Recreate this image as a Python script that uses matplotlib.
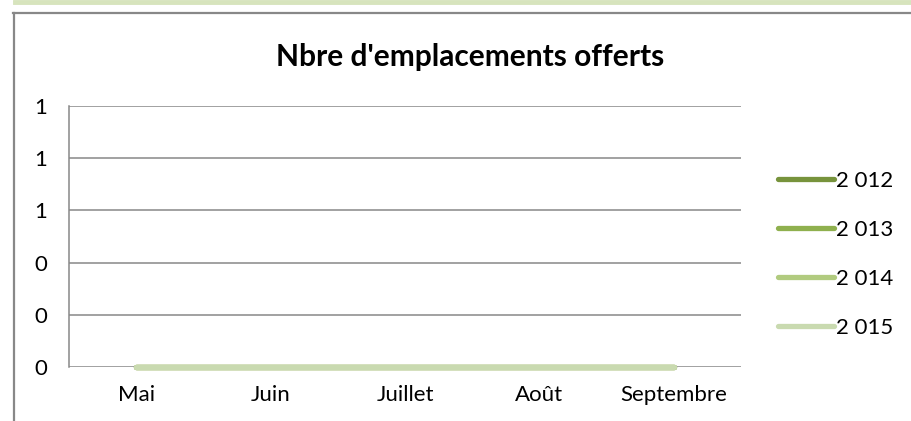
import matplotlib
matplotlib.use("Agg")
from matplotlib import pyplot as plt
from matplotlib.lines import Line2D
from matplotlib.ticker import FuncFormatter, MultipleLocator

plt.rcParams['font.family'] = ['Lato', 'DejaVu Sans']

months = ['Mai', 'Juin', 'Juillet', 'Août', 'Septembre']
series_names = ['2 012', '2 013', '2 014', '2 015']
values_2012 = [0, 0, 0, 0, 0]
values_2013 = [0, 0, 0, 0, 0]
values_2014 = [0, 0, 0, 0, 0]
values_2015 = [0, 0, 0, 0, 0]
colors = ['#77933c', '#8fb04e', '#b1cb7f', '#c9dab0']

GRID = '#888888'

fig = plt.figure(figsize=(9.12, 4.21), dpi=100)

# outer frame pieces and green band
fig.add_artist(Line2D([15 / 912, 1], [1 - 2 / 421] * 2, color='#d7e4bd', lw=3.5,
                      transform=fig.transFigure))
fig.add_artist(Line2D([13 / 912, 1], [1 - 13 / 421] * 2, color=GRID, lw=1.6,
                      transform=fig.transFigure))
fig.add_artist(Line2D([14 / 912] * 2, [0, 1 - 13 / 421], color=GRID, lw=1.6,
                      transform=fig.transFigure))

ax = fig.add_axes([69 / 912, 1 - 367 / 421, 672 / 912, 261 / 421])

x = range(len(months))
for name, vals, c in zip(series_names,
                         [values_2012, values_2013, values_2014, values_2015],
                         colors):
    ax.plot(x, vals, color=c, lw=3.8, solid_capstyle='round', label=name,
            zorder=3, clip_on=False)

ax.set_xlim(-0.5, len(months) - 0.5)
ax.set_ylim(0, 1)
ax.yaxis.set_major_locator(MultipleLocator(0.2))
ax.yaxis.set_major_formatter(FuncFormatter(lambda v, p: f"{v:.0f}"))
ax.set_xticks(list(x))
ax.set_xticklabels(months)
ax.tick_params(axis='both', length=0, labelsize=16, colors='black')
ax.tick_params(axis='y', pad=16)
ax.tick_params(axis='x', pad=13)
ax.grid(axis='y', color=GRID, lw=1.1)
ax.set_axisbelow(True)
for s in ['top', 'right', 'bottom']:
    ax.spines[s].set_visible(False)
ax.spines['left'].set_color(GRID)
ax.spines['left'].set_linewidth(1.1)

fig.text(470 / 912, 1 - 57 / 421, "Nbre d'emplacements offerts",
         ha='center', va='center', fontsize=21.5, fontweight='bold')

ax.legend(frameon=False, loc='upper left', bbox_to_anchor=(778 / 912, 1 - 171 / 421),
          bbox_transform=fig.transFigure, handlelength=2.5, handletextpad=0.12,
          labelspacing=1.3, fontsize=16, borderaxespad=0, borderpad=0)

fig.savefig('out.png', dpi=100)
